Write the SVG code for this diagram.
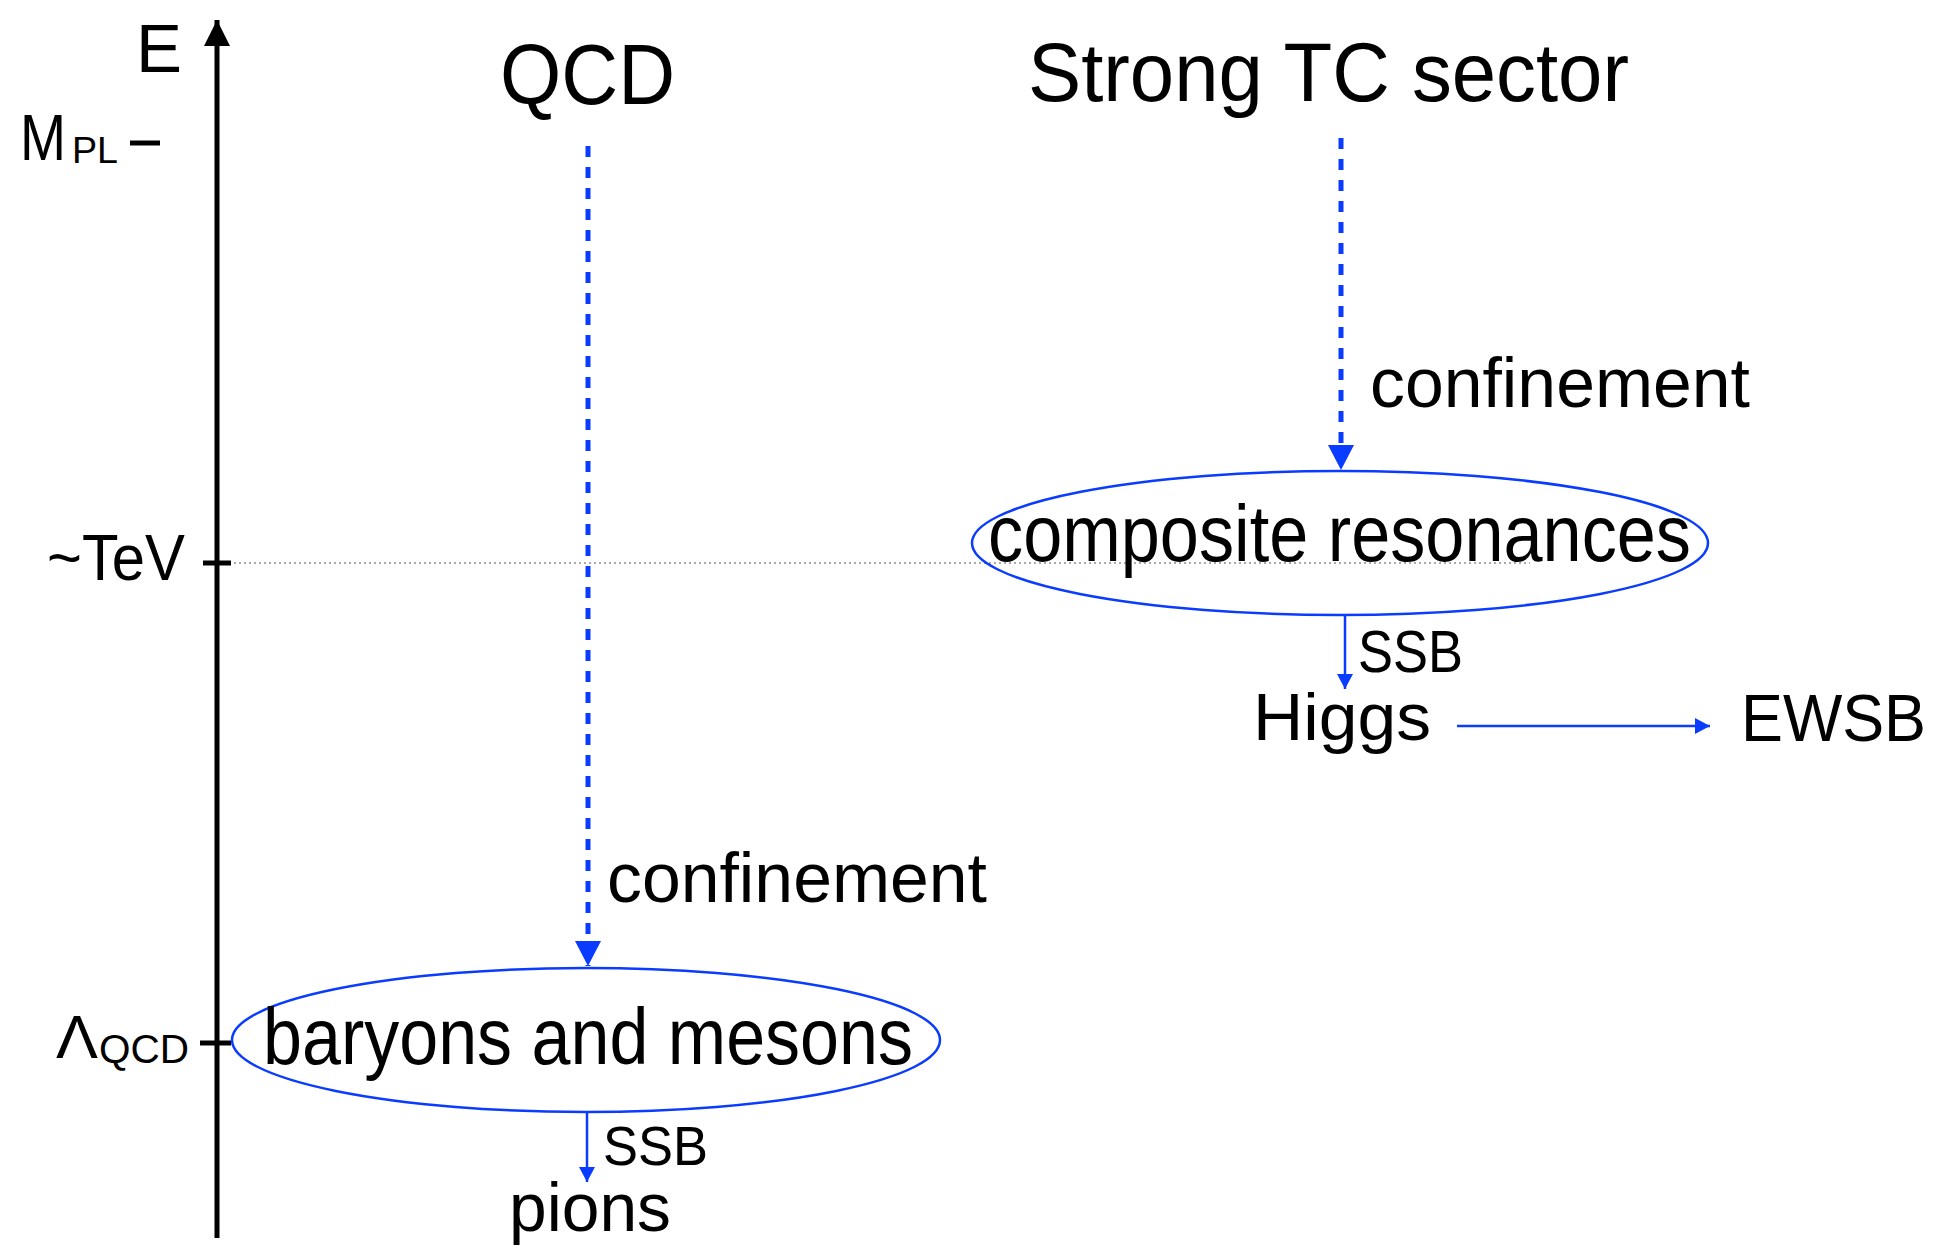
<svg xmlns="http://www.w3.org/2000/svg" width="1935" height="1248" viewBox="0 0 1935 1248">
<defs>
<style>
text{font-family:"Liberation Sans",Arial,sans-serif;fill:#000}
.blue{stroke:#0a3cff;fill:none}
.dash{stroke:#0a3cff;stroke-width:5;stroke-dasharray:11 10;fill:none}
.thin{stroke:#0a3cff;stroke-width:2.5;fill:none}
</style>
<marker id="bigHead" viewBox="0 0 25 26" refX="25" refY="13" markerWidth="25" markerHeight="26" markerUnits="userSpaceOnUse" orient="auto"><path d="M0,0 L25,13 L0,26 Z" fill="#0a3cff"/></marker>
<marker id="smallHead" viewBox="0 0 15 16" refX="15" refY="8" markerWidth="15" markerHeight="16" markerUnits="userSpaceOnUse" orient="auto"><path d="M0,0 L15,8 L0,16 Z" fill="#0a3cff"/></marker>
<marker id="axisHead" viewBox="0 0 26 26" refX="26" refY="13" markerWidth="26" markerHeight="26" markerUnits="userSpaceOnUse" orient="auto"><path d="M0,0 L26,13 L0,26 Z" fill="#000"/></marker>
</defs>

<g id="axis">
<line x1="217" y1="1238" x2="217" y2="20" stroke="#000" stroke-width="5" marker-end="url(#axisHead)"/>
<text x="136" y="72" font-size="68" textLength="46" lengthAdjust="spacingAndGlyphs">E</text>
<text x="20" y="160" font-size="64" textLength="46" lengthAdjust="spacingAndGlyphs">M</text>
<text x="72" y="163" font-size="37" textLength="46" lengthAdjust="spacingAndGlyphs">PL</text>
<line x1="130" y1="143" x2="160" y2="143" stroke="#000" stroke-width="5"/>
<text x="47" y="580" font-size="64" textLength="138" lengthAdjust="spacingAndGlyphs">~TeV</text>
<line x1="203" y1="563" x2="231" y2="563" stroke="#000" stroke-width="5"/>
<text x="56" y="1058" font-size="62" textLength="42" lengthAdjust="spacingAndGlyphs">Λ</text>
<text x="99" y="1063" font-size="41" textLength="90" lengthAdjust="spacingAndGlyphs">QCD</text>
<line x1="200" y1="1043" x2="231" y2="1043" stroke="#000" stroke-width="5"/>
</g>

<line id="tev-line" x1="234" y1="563" x2="1530" y2="563" stroke="#aaa" stroke-width="2" stroke-dasharray="2 3"/>

<g id="qcd"><text x="500" y="104" font-size="86" textLength="175" lengthAdjust="spacingAndGlyphs">QCD</text></g>
<g id="tc"><text x="1028" y="101" font-size="84" textLength="601" lengthAdjust="spacingAndGlyphs">Strong TC sector</text></g>

<g id="composite">
<ellipse class="blue" cx="1340" cy="543" rx="368" ry="72" stroke-width="2.5"/>
<text x="988" y="561" font-size="80" textLength="703" lengthAdjust="spacingAndGlyphs">composite resonances</text>
</g>
<g id="higgs"><text x="1253" y="740" font-size="66" textLength="178" lengthAdjust="spacingAndGlyphs">Higgs</text></g>
<g id="ewsb"><text x="1741" y="741" font-size="66" textLength="185" lengthAdjust="spacingAndGlyphs">EWSB</text></g>

<g id="baryons">
<ellipse class="blue" cx="586" cy="1040" rx="354" ry="72" stroke-width="2.5"/>
<text x="263" y="1064" font-size="80" textLength="650" lengthAdjust="spacingAndGlyphs">baryons and mesons</text>
</g>
<g id="pions"><text x="509" y="1231" font-size="68" textLength="162" lengthAdjust="spacingAndGlyphs">pions</text></g>

<g id="connectors">
<line class="dash" x1="588" y1="146" x2="588" y2="966" marker-end="url(#bigHead)"/>
<text x="607" y="902" font-size="70" textLength="380" lengthAdjust="spacingAndGlyphs">confinement</text>
<line class="dash" x1="1341" y1="138" x2="1341" y2="470" marker-end="url(#bigHead)"/>
<text x="1370" y="407" font-size="70" textLength="380" lengthAdjust="spacingAndGlyphs">confinement</text>
<line class="thin" x1="1345" y1="615" x2="1345" y2="689" marker-end="url(#smallHead)"/>
<text x="1358" y="672" font-size="59" textLength="105" lengthAdjust="spacingAndGlyphs">SSB</text>
<line class="thin" x1="1457" y1="726" x2="1710" y2="726" marker-end="url(#smallHead)"/>
<line class="thin" x1="587" y1="1112" x2="587" y2="1182" marker-end="url(#smallHead)"/>
<text x="603" y="1165" font-size="56" textLength="105" lengthAdjust="spacingAndGlyphs">SSB</text>
</g>
</svg>
